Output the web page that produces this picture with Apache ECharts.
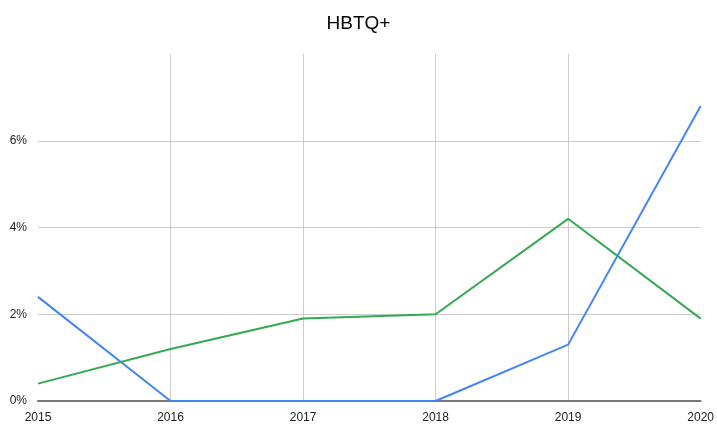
<!DOCTYPE html>
<html>
<head>
<meta charset="utf-8">
<script src="https://cdn.jsdelivr.net/npm/echarts@6/dist/echarts.min.js"></script>
<style>
  html, body { margin: 0; padding: 0; background: #fff; }
  #chart { width: 717px; height: 430px; }
</style>
</head>
<body>
<div id="chart"></div>
<script>
const years = ['2015', '2016', '2017', '2018', '2019', '2020'];
const blueValues = [2.4, 0, 0, 0, 1.3, 6.8];
const greenValues = [0.4, 1.2, 1.9, 2.0, 4.2, 1.9];

var myChart = echarts.init(document.getElementById('chart'));
var font = '"Liberation Sans", Arial, sans-serif';
var option = {
  animation: false,
  title: {
    text: 'HBTQ+',
    left: 'center',
    top: 9,
    textStyle: { fontFamily: font, fontSize: 19, fontWeight: 'normal', color: '#000' }
  },
  grid: { left: 38, right: 15, top: 54, bottom: 29 },
  xAxis: {
    type: 'category',
    data: years,
    boundaryGap: false,
    axisLine: { show: true, lineStyle: { color: '#777', width: 2 } },
    axisTick: { show: false },
    axisLabel: { fontFamily: font, fontSize: 12, color: '#222', margin: 11 },
    splitLine: {
      show: true,
      interval: function (i) { return i > 0 && i < years.length - 1; },
      lineStyle: { color: '#ccc', width: 1 }
    }
  },
  yAxis: {
    type: 'value',
    min: 0,
    max: 8,
    interval: 2,
    axisLine: { show: false },
    axisTick: { show: false },
    axisLabel: {
      fontFamily: font, fontSize: 12, color: '#222', margin: 11,
      showMaxLabel: false,
      formatter: '{value}%'
    },
    splitLine: {
      lineStyle: { color: ['#ccc', '#ccc', '#ccc', '#ccc', 'rgba(0,0,0,0)'], width: 1 }
    }
  },
  series: [
    {
      type: 'line',
      data: blueValues,
      showSymbol: false,
      lineStyle: { color: '#4285F4', width: 2 },
      itemStyle: { color: '#4285F4' }
    },
    {
      type: 'line',
      data: greenValues,
      showSymbol: false,
      lineStyle: { color: '#34A853', width: 2 },
      itemStyle: { color: '#34A853' }
    }
  ]
};
myChart.setOption(option);
</script>
</body>
</html>
